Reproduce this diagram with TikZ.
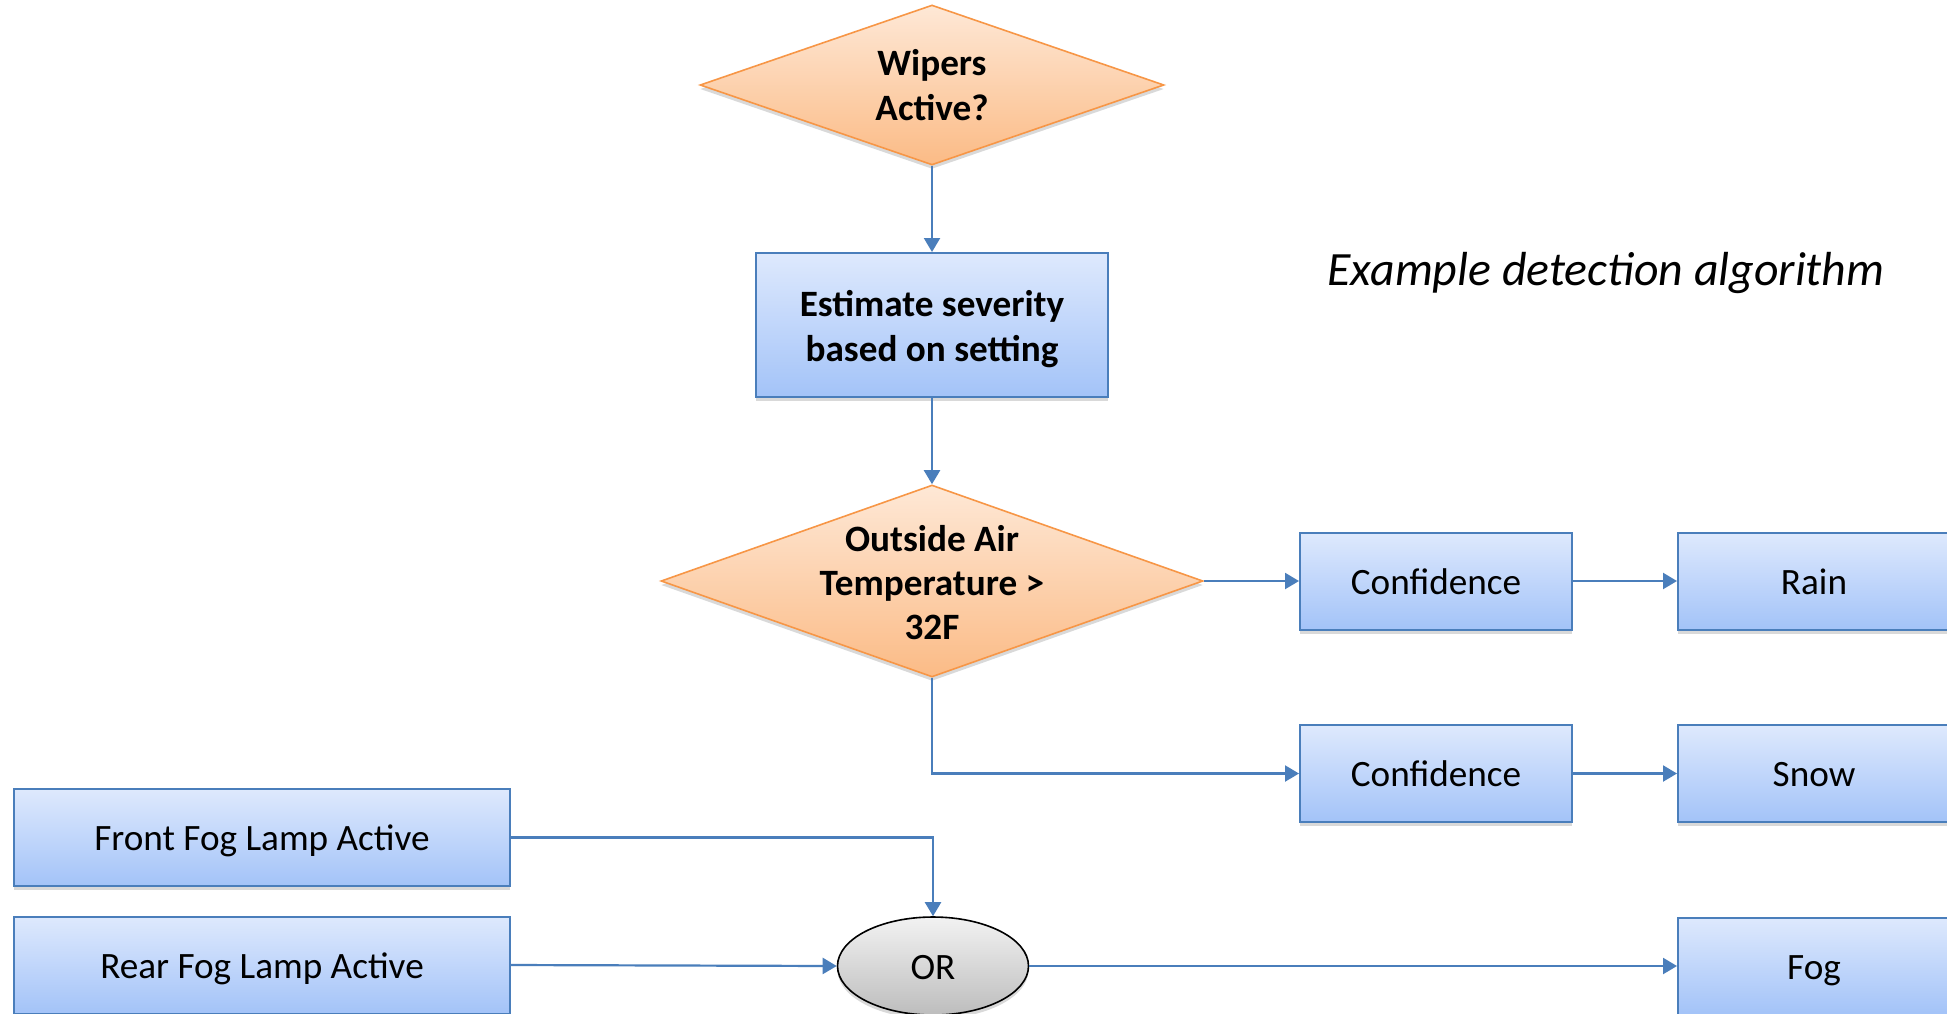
\documentclass[tikz,border=0pt]{standalone}
\usepackage{fontspec}
\setmainfont{Carlito}
\usetikzlibrary{shapes.geometric,arrows.meta,shadows}
\definecolor{lnblue}{HTML}{4A7EBB}
\definecolor{boxtop}{HTML}{DEE9FD}
\definecolor{boxbot}{HTML}{A3C3F8}
\definecolor{dmtop}{HTML}{FEE8D6}
\definecolor{dmbot}{HTML}{FBBB86}
\definecolor{dmline}{HTML}{F79646}
\definecolor{ortop}{HTML}{F2F2F2}
\definecolor{orbot}{HTML}{BDBDBD}
\tikzset{
  txt/.style={font=\fontsize{18.6}{22.5}\selectfont, align=center, inner sep=0pt},
  btxt/.style={txt, font=\fontsize{18.6}{22.5}\selectfont\bfseries},
  softshadow/.style={drop shadow={shadow xshift=0pt, shadow yshift=-2pt, opacity=0.15, fill=black}},
  bluebox/.style={rectangle, draw=lnblue, line width=1pt, top color=boxtop, bottom color=boxbot,
     inner sep=0pt, font=\fontsize{18.6}{22.5}\selectfont, align=center,
     text height=13.3pt, text depth=0pt, softshadow},
  smallbox/.style={bluebox, minimum width=136pt, minimum height=48.5pt},
  dmnd/.style={diamond, draw=dmline, line width=0.8pt, top color=dmtop, bottom color=dmbot,
     inner sep=0pt, softshadow},
  conn/.style={draw=lnblue, line width=1.1pt, -{Triangle[length=7pt,width=8pt]}},
}
\begin{document}
\begin{tikzpicture}[x=0.5pt,y=-0.5pt]
\fill[white] (0,0) rectangle (1947,1013);
\useasboundingbox (0,0) rectangle (1947,1013);
\begin{scope}[overlay]
% diamonds and estimate box
\node[dmnd, minimum width=232pt, minimum height=80pt] (wip) at (932,85) {};
\node[btxt] (wipT) at (932,85) {Wipers\\Active?};
\node[bluebox, minimum width=176pt, minimum height=72pt] (est) at (932,325) {};
\node[btxt] (estT) at (932,329) {Estimate severity\\based on setting};
\node[dmnd, minimum width=271pt, minimum height=96pt] (oat) at (932,581) {};
\node[btxt, font=\fontsize{18.6}{22}\selectfont\bfseries] (oatT) at (932,583) {Outside Air\\Temperature >\\32F};

% right boxes
\node[smallbox] (c1) at (1436,581) {Confidence};
\node[smallbox] (rain) at (1814,581) {Rain};
\node[smallbox] (c2) at (1436,773.5) {Confidence};
\node[smallbox] (snow) at (1814,773.5) {Snow};
\node[smallbox] (fog) at (1814,966) {Fog};

% left boxes
\node[bluebox, minimum width=248pt, minimum height=48.5pt] (front) at (262,837.5) {Front Fog Lamp Active};
\node[bluebox, minimum width=248pt, minimum height=48.5pt] (rear) at (262,965) {Rear Fog Lamp Active};

% OR
\node[ellipse, draw=black, line width=0.8pt, top color=ortop, bottom color=orbot, inner sep=0pt,
      minimum width=95.5pt, minimum height=49pt, font=\fontsize{18.6}{22.5}\selectfont,
      text height=13.3pt, text depth=0pt, softshadow] (or) at (933,966) {OR};

% title
\node[anchor=base, inner sep=0pt, font=\fontsize{23.9}{28}\selectfont\itshape] (title) at (1606,285) {Example detection algorithm};

% connectors
\draw[conn] (wip.south) -- (est.north);
\draw[conn] (est.south) -- (oat.north);
\draw[conn] (oat.east) -- (c1.west);
\draw[conn] (c1.east) -- (rain.west);
\draw[conn] (oat.south) |- (c2.west);
\draw[conn] (c2.east) -- (snow.west);
\draw[conn] (front.east) -| (or.north);
\draw[conn] (rear.east) -- (or.west);
\draw[conn] (or.east) -- (fog.west);
\end{scope}
\end{tikzpicture}
\end{document}
